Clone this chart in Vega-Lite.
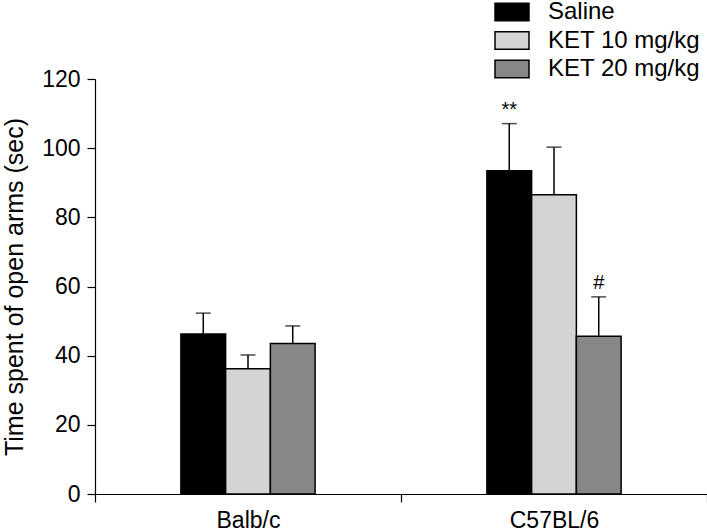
{
  "$schema": "https://vega.github.io/schema/vega-lite/v6.json",
  "width": 612,
  "height": 415,
  "autosize": {"type": "none"},
  "padding": {"left": 95, "top": 79, "right": 0, "bottom": 38},
  "config": {
    "font": "Liberation Sans",
    "view": {"stroke": null},
    "axis": {"grid": false, "domainColor": "black", "tickColor": "black", "labelColor": "black", "titleColor": "black", "domainWidth": 1.2, "tickWidth": 1.2},
    "axisY": {"labelFontSize": 23, "titleFontSize": 25, "titleFontWeight": "normal", "tickSize": 8, "labelPadding": 7, "tickCount": 6, "titlePadding": 14}
  },
  "data": {
    "values": [
      {"strain": "Balb/c", "group": "Saline", "mean": 46.3, "upper": 52.3, "sig": ""},
      {"strain": "Balb/c", "group": "KET 10 mg/kg", "mean": 36.2, "upper": 40.2, "sig": ""},
      {"strain": "Balb/c", "group": "KET 20 mg/kg", "mean": 43.5, "upper": 48.6, "sig": ""},
      {"strain": "C57BL/6", "group": "Saline", "mean": 93.5, "upper": 107.1, "sig": "**"},
      {"strain": "C57BL/6", "group": "KET 10 mg/kg", "mean": 86.5, "upper": 100.3, "sig": ""},
      {"strain": "C57BL/6", "group": "KET 20 mg/kg", "mean": 45.6, "upper": 57.0, "sig": "#"}
    ]
  },
  "encoding": {
    "x": {
      "field": "strain", "type": "nominal",
      "scale": {"paddingInner": 0, "paddingOuter": 0},
      "axis": {"title": null, "labelAngle": 0, "tickBand": "extent", "tickSize": 8, "labelFontSize": 23, "labelPadding": 7}
    },
    "xOffset": {
      "field": "group", "type": "nominal",
      "scale": {"domain": ["_padL", "Saline", "KET 10 mg/kg", "KET 20 mg/kg", "_padR"], "paddingInner": 0, "paddingOuter": 0.92}
    }
  },
  "layer": [
    {
      "mark": {"type": "rule", "color": "black", "strokeWidth": 1.5},
      "encoding": {
        "y": {"field": "mean", "type": "quantitative", "title": "Time spent of open arms (sec)"},
        "y2": {"field": "upper"}
      }
    },
    {
      "mark": {"type": "tick", "color": "black", "thickness": 1.5, "size": 15},
      "encoding": {
        "y": {"field": "upper", "type": "quantitative", "title": "Time spent of open arms (sec)"}
      }
    },
    {
      "mark": {"type": "bar", "stroke": "black", "strokeWidth": 1.5},
      "encoding": {
        "y": {"field": "mean", "type": "quantitative", "scale": {"domain": [0, 120]}, "title": "Time spent of open arms (sec)"},
        "fill": {
          "field": "group", "type": "nominal",
          "scale": {"domain": ["Saline", "KET 10 mg/kg", "KET 20 mg/kg"], "range": ["#000000", "#d4d4d4", "#878787"]},
          "legend": {
            "orient": "none", "legendX": 405, "legendY": -79, "title": null,
            "symbolType": "M-2,-1.04H2V1.04H-2Z", "symbolSize": 289,
            "symbolStrokeColor": "black", "symbolStrokeWidth": 1.5, "symbolOpacity": 1,
            "labelFontSize": 24, "labelColor": "black", "labelOffset": 24, "rowPadding": 4.5
          }
        }
      }
    },
    {
      "mark": {"type": "text", "dy": -14, "fontSize": 20, "color": "black"},
      "encoding": {
        "y": {"field": "upper", "type": "quantitative", "title": "Time spent of open arms (sec)"},
        "text": {"field": "sig"}
      }
    }
  ]
}
